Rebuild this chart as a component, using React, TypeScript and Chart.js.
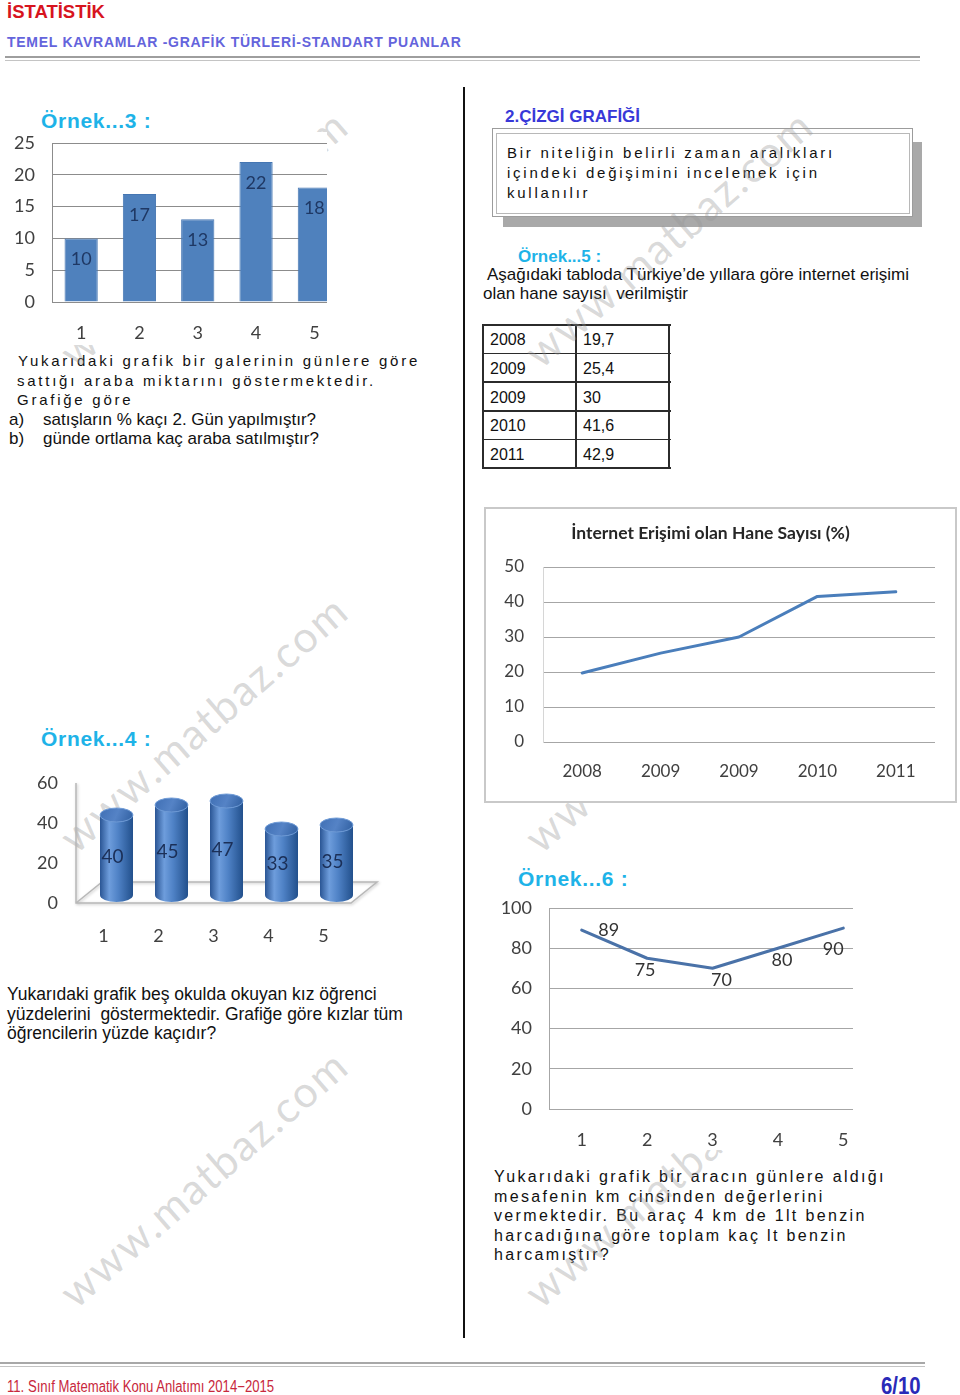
import React, { useEffect, useRef } from "react";
import { Chart, registerables } from "chart.js";

Chart.register(...registerables);

// ---------------- data ----------------
const ex3Days = ["1", "2", "3", "4", "5"];
const ex3CarsSold = [10, 17, 13, 22, 18];
const ex3YTicks = [0, 5, 10, 15, 20, 25];

const ex4Schools = ["1", "2", "3", "4", "5"];
const ex4GirlPercent = [40, 45, 47, 33, 35];
const ex4YTicks = [0, 20, 40, 60];

const ex5Years = ["2008", "2009", "2009", "2010", "2011"];
const ex5Internet = [19.7, 25.4, 30, 41.6, 42.9];
const ex5TableValues = ["19,7", "25,4", "30", "41,6", "42,9"];
const ex5YTicks = [0, 10, 20, 30, 40, 50];
const ex5Title = "İnternet Erişimi olan Hane Sayısı (%)";

const ex6Days = ["1", "2", "3", "4", "5"];
const ex6Km = [89, 75, 70, 80, 90];
const ex6YTicks = [0, 20, 40, 60, 80, 100];

// ---------------- styles ----------------
const SANS = '"Liberation Sans", Arial, sans-serif';
const CHART_FONT = "Lato";
const CYAN = "#1eb3e8";
const TICK_COLOR = "#404040";

Chart.defaults.font.family = CHART_FONT;

function yAxis(ticks: number[], width: number, gap: number, size: number, grid: any, border: any) {
  return {
    min: ticks[0],
    max: ticks[ticks.length - 1],
    ticks: {
      stepSize: ticks[1] - ticks[0],
      padding: 0,
      color: TICK_COLOR,
      font: { family: CHART_FONT, size },
    },
    grid: { drawTicks: true, tickLength: gap, tickColor: "rgba(0,0,0,0)", ...grid },
    border,
    afterFit: (s: any) => {
      s.width = width;
    },
  };
}

function xAxis(height: number, gap: number, size: number) {
  return {
    offset: true,
    grid: { display: false, drawTicks: false, tickLength: 0 },
    border: { display: false },
    ticks: {
      padding: gap,
      color: TICK_COLOR,
      font: { family: CHART_FONT, size },
      maxRotation: 0,
      autoSkip: false,
    },
    afterFit: (s: any) => {
      s.height = height;
    },
  };
}

const noPlugins = { legend: { display: false }, tooltip: { enabled: false } };

// value labels inside the bars (Örnek 3)
const barValuePlugin = {
  id: "barValues",
  afterDatasetsDraw(chart: any) {
    const ctx = chart.ctx;
    const meta = chart.getDatasetMeta(0);
    const data = chart.data.datasets[0].data;
    ctx.save();
    ctx.font = `18px ${CHART_FONT}`;
    ctx.fillStyle = "#1f3864";
    ctx.textAlign = "center";
    ctx.textBaseline = "middle";
    meta.data.forEach((el: any, i: number) => {
      const p = el.getProps(["x", "y"], true);
      ctx.fillText(String(data[i]), p.x, p.y + 21);
    });
    ctx.restore();
  },
};

// 3D floor + cylinders (Örnek 4)
const FLOOR_DX = 26;
const FLOOR_DY = -21;
const CYL_DX = 13;
const CYL_DY = -8;
const cylinderPlugin = {
  id: "cylinders",
  beforeDatasetsDraw(chart: any) {
    const { ctx, chartArea: a, scales } = chart;
    const y0 = scales.y.getPixelForValue(0);
    ctx.save();
    ctx.strokeStyle = "#b8b8b8";
    ctx.lineWidth = 1.5;
    ctx.shadowColor = "rgba(0,0,0,0.25)";
    ctx.shadowBlur = 3;
    ctx.shadowOffsetX = 1;
    ctx.shadowOffsetY = 1;
    ctx.beginPath();
    ctx.moveTo(a.left, a.top);
    ctx.lineTo(a.left, y0);
    ctx.lineTo(a.right, y0);
    ctx.lineTo(a.right + FLOOR_DX, y0 + FLOOR_DY);
    ctx.lineTo(a.left + FLOOR_DX, y0 + FLOOR_DY);
    ctx.lineTo(a.left, y0);
    ctx.stroke();
    ctx.restore();
  },
  afterDatasetsDraw(chart: any) {
    const ctx = chart.ctx;
    const meta = chart.getDatasetMeta(0);
    const data = chart.data.datasets[0].data;
    meta.data.forEach((el: any, i: number) => {
      const { x, y, base, width } = el.getProps(["x", "y", "base", "width"], true);
      const cx = x + CYL_DX;
      const top = y + CYL_DY;
      const bottom = base + CYL_DY;
      const r = width / 2;
      const ry = 7;
      ctx.save();
      const g = ctx.createLinearGradient(cx - r, 0, cx + r, 0);
      g.addColorStop(0, "#2a5594");
      g.addColorStop(0.28, "#6e9ddc");
      g.addColorStop(0.55, "#4f82c6");
      g.addColorStop(1, "#22508c");
      ctx.beginPath();
      ctx.moveTo(cx - r, top);
      ctx.lineTo(cx - r, bottom);
      ctx.ellipse(cx, bottom, r, ry, 0, Math.PI, 0, true);
      ctx.lineTo(cx + r, top);
      ctx.closePath();
      ctx.fillStyle = g;
      ctx.fill();
      const gc = ctx.createLinearGradient(cx - r, top - ry, cx + r, top + ry);
      gc.addColorStop(0, "#3f6fb4");
      gc.addColorStop(0.5, "#5583c6");
      gc.addColorStop(1, "#2f5e9f");
      ctx.beginPath();
      ctx.ellipse(cx, top, r, ry, 0, 0, Math.PI * 2);
      ctx.fillStyle = gc;
      ctx.fill();
      ctx.strokeStyle = "#6f9bd6";
      ctx.lineWidth = 1;
      ctx.stroke();
      ctx.font = `19px ${CHART_FONT}`;
      ctx.fillStyle = "#1b2f57";
      ctx.textAlign = "center";
      ctx.textBaseline = "middle";
      ctx.fillText(String(data[i]), cx - 4, (top + bottom) / 2 + 2);
      ctx.restore();
    });
  },
};

// point labels (Örnek 6)
const pointLabelPlugin = {
  id: "pointLabels",
  afterDatasetsDraw(chart: any, _args: any, opts: any) {
    const ctx = chart.ctx;
    const meta = chart.getDatasetMeta(0);
    const data = chart.data.datasets[0].data;
    const offsets: number[][] = opts.offsets || [];
    ctx.save();
    ctx.font = `18px ${CHART_FONT}`;
    ctx.fillStyle = "#333";
    ctx.textAlign = "center";
    ctx.textBaseline = "middle";
    meta.data.forEach((el: any, i: number) => {
      const p = el.getProps(["x", "y"], true);
      const o = offsets[i] || [0, 12];
      ctx.fillText(String(data[i]), p.x + o[0], p.y + o[1]);
    });
    ctx.restore();
  },
};

// ---------------- configs ----------------
const ex3Config = () => ({
  type: "bar",
  data: {
    labels: ex3Days,
    datasets: [
      {
        data: ex3CarsSold,
        backgroundColor: "#4f81bd",
        borderColor: "#4576b2",
        borderWidth: 1,
        barPercentage: 0.57,
        categoryPercentage: 1,
      },
    ],
  },
  options: {
    responsive: false,
    animation: false,
    layout: { padding: { top: 11, right: 2.5, left: 0, bottom: 0 } },
    plugins: noPlugins,
    scales: {
      x: xAxis(43, 20, 18),
      y: yAxis(ex3YTicks, 52, 17, 18, { color: "#8c8c8c" }, { display: true, color: "#8c8c8c" }),
    },
  },
  plugins: [barValuePlugin],
});

const ex4Config = () => ({
  type: "bar",
  data: {
    labels: ex4Schools,
    datasets: [
      {
        data: ex4GirlPercent,
        backgroundColor: "rgba(0,0,0,0)",
        borderWidth: 0,
        barPercentage: 0.6,
        categoryPercentage: 1,
      },
    ],
  },
  options: {
    responsive: false,
    animation: false,
    layout: { padding: { top: 13, right: 44, left: 0, bottom: 0 } },
    plugins: noPlugins,
    scales: {
      x: xAxis(52, 22, 18),
      y: yAxis(ex4YTicks, 76, 18, 18, { display: false }, { display: false }),
    },
  },
  plugins: [cylinderPlugin],
});

const ex5Config = () => ({
  type: "line",
  data: {
    labels: ex5Years,
    datasets: [
      {
        data: ex5Internet,
        borderColor: "#4a7ebb",
        borderWidth: 3,
        pointRadius: 0,
        tension: 0,
        borderJoinStyle: "round",
        borderCapStyle: "round",
      },
    ],
  },
  options: {
    responsive: false,
    animation: false,
    layout: { padding: { top: 0, right: 24, left: 0, bottom: 0 } },
    plugins: {
      ...noPlugins,
      title: {
        display: true,
        text: ex5Title,
        color: "#262626",
        font: { family: CHART_FONT, size: 17.5, weight: "bold" },
        padding: { top: 14, bottom: 23 },
      },
    },
    scales: {
      x: xAxis(63, 19.8, 17),
      y: yAxis(ex5YTicks, 57, 19, 17, { color: "#a6a6a6" }, { display: true, color: "#d6d6d6" }),
    },
  },
});

const ex6Config = () => ({
  type: "line",
  data: {
    labels: ex6Days,
    datasets: [
      {
        data: ex6Km,
        borderColor: "#4a72a8",
        borderWidth: 3,
        pointRadius: 0,
        tension: 0,
        borderJoinStyle: "round",
        borderCapStyle: "round",
      },
    ],
  },
  options: {
    responsive: false,
    animation: false,
    layout: { padding: { top: 13, right: 4, left: 0, bottom: 0 } },
    plugins: {
      ...noPlugins,
      pointLabels: { offsets: [[27, 0], [-2, 12], [9, 12], [4, 12], [-10, 21]] },
    },
    scales: {
      x: xAxis(41, 20, 18),
      y: yAxis(ex6YTicks, 59, 17, 18, { color: "#a6a6a6" }, { display: true, color: "#a6a6a6" }),
    },
  },
  plugins: [pointLabelPlugin],
});

// ---------------- components ----------------
type Box = { left: number; top: number; width: number; height: number; clip?: number };

function ChartCanvas({ box, config, wrap }: { box: Box; config: () => any; wrap?: React.CSSProperties }) {
  const ref = useRef<HTMLCanvasElement | null>(null);
  useEffect(() => {
    if (!ref.current) return;
    const chart = new Chart(ref.current, config());
    return () => chart.destroy();
  }, []);
  return (
    <div
      style={{
        position: "absolute",
        left: box.left,
        top: box.top,
        width: box.clip ?? box.width,
        height: box.height,
        overflow: "hidden",
        background: "#fff",
        zIndex: 2,
        ...wrap,
      }}
    >
      <canvas ref={ref} width={box.width} height={box.height} style={{ display: "block" }} />
    </div>
  );
}

function T({
  x,
  y,
  size,
  children,
  color = "#111",
  bold = false,
  family = SANS,
  ls = 0,
  align = "left",
  sx = 1,
}: {
  x: number;
  y: number;
  size: number;
  children: React.ReactNode;
  color?: string;
  bold?: boolean;
  family?: string;
  ls?: number;
  align?: "left" | "right";
  sx?: number;
}) {
  const pos: React.CSSProperties = align === "right" ? { right: 960 - x } : { left: x };
  return (
    <div
      style={{
        position: "absolute",
        ...pos,
        top: y - 0.8465 * size,
        fontSize: size,
        lineHeight: `${size}px`,
        fontFamily: family,
        fontWeight: bold ? 700 : 400,
        color,
        letterSpacing: ls,
        whiteSpace: "pre",
        zIndex: 0,
        transform: sx !== 1 ? `scaleX(${sx})` : undefined,
        transformOrigin: align === "right" ? "right center" : "left center",
      }}
    >
      {children}
    </div>
  );
}

const WM_SIZE = 43;
function Watermark({ x, y }: { x: number; y: number }) {
  const b = 0.887 * WM_SIZE;
  return (
    <div
      style={{
        position: "absolute",
        left: x,
        top: y - b,
        fontFamily: CHART_FONT,
        fontSize: WM_SIZE,
        lineHeight: `${WM_SIZE}px`,
        color: "rgba(150,150,150,0.36)",
        letterSpacing: 2,
        transform: "rotate(-41deg)",
        transformOrigin: `0px ${b}px`,
        whiteSpace: "pre",
        zIndex: 1,
        pointerEvents: "none",
      }}
    >
      www.matbaz.com
    </div>
  );
}

function Line({ x, y, w, h, c }: { x: number; y: number; w: number; h: number; c: string }) {
  return <div style={{ position: "absolute", left: x, top: y, width: w, height: h, background: c }} />;
}

function DataTable() {
  const top = 325;
  const rowH = 28.6;
  const left = 483;
  const mid = 576;
  const right = 669;
  const c = "#2b2b2b";
  const n = ex5Years.length;
  return (
    <>
      {Array.from({ length: n + 1 }).map((_, i) => (
        <Line key={"h" + i} x={left} y={top + i * rowH - 0.75} w={right - left + 1.5} h={1.5} c={c} />
      ))}
      {[left, mid, right].map((xv, i) => (
        <Line key={"v" + i} x={xv - 0.75} y={top - 0.75} w={1.5} h={n * rowH + 1.5} c={c} />
      ))}
      {ex5Years.map((yr, i) => (
        <T key={"y" + i} x={490} y={top + i * rowH + 21} size={16}>
          {yr}
        </T>
      ))}
      {ex5TableValues.map((v, i) => (
        <T key={"v" + i} x={583} y={top + i * rowH + 21} size={16}>
          {v}
        </T>
      ))}
    </>
  );
}

export default function App() {
  return (
    <div
      style={{
        position: "absolute",
        left: 0,
        top: 0,
        width: 960,
        height: 1395,
        background: "#fff",
        overflow: "hidden",
        fontFamily: SANS,
      }}
    >
      {/* header */}
      <T x={7} y={19} size={18.5} bold color="#d7141e">
        İSTATİSTİK
      </T>
      <T x={7} y={47} size={14} bold color="#6464dc" ls={0.72}>
        TEMEL KAVRAMLAR -GRAFİK TÜRLERİ-STANDART PUANLAR
      </T>
      <Line x={5} y={56} w={915} h={1.5} c="#9e9e9e" />
      <Line x={5} y={60} w={915} h={1} c="#c4c4c4" />

      {/* divider */}
      <Line x={463} y={87} w={2} h={1251} c="#111" />

      {/* left column */}
      <T x={41} y={128} size={21} bold color={CYAN} ls={0.7}>
        Örnek...3 :
      </T>
      <ChartCanvas box={{ left: 0, top: 132, width: 346, height: 213, clip: 327 }} config={ex3Config} />

      <T x={18} y={366} size={15} ls={2.75}>
        Yukarıdaki grafik bir galerinin günlere göre
      </T>
      <T x={17} y={385.5} size={15} ls={2.75}>
        sattığı araba miktarını göstermektedir.
      </T>
      <T x={17} y={405} size={15} ls={2.75}>
        Grafiğe göre
      </T>
      <T x={9} y={425} size={17}>
        a)
      </T>
      <T x={43} y={425} size={17}>
        satışların % kaçı 2. Gün yapılmıştır?
      </T>
      <T x={9} y={444} size={17}>
        b)
      </T>
      <T x={43} y={444} size={17}>
        günde ortlama kaç araba satılmıştır?
      </T>

      <T x={41} y={746} size={21} bold color={CYAN} ls={0.7}>
        Örnek...4 :
      </T>
      <ChartCanvas box={{ left: 0, top: 770, width: 395, height: 185 }} config={ex4Config} wrap={{ background: "transparent" }} />

      <T x={7} y={1001} size={17.5}>
        Yukarıdaki grafik beş okulda okuyan kız öğrenci
      </T>
      <T x={7} y={1020.5} size={17.5}>
        yüzdelerini  göstermektedir. Grafiğe göre kızlar tüm
      </T>
      <T x={7} y={1040} size={17.5}>
        öğrencilerin yüzde kaçıdır?
      </T>

      {/* right column */}
      <T x={505} y={122} size={17} bold color="#3838d8">
        2.ÇİZGİ GRAFİĞİ
      </T>
      <Line x={503} y={142} w={419} h={85} c="#a9a9a9" />
      <div
        style={{
          position: "absolute",
          left: 492,
          top: 128,
          width: 421,
          height: 89,
          boxSizing: "border-box",
          border: "1px solid #9c9c9c",
          background: "#fff",
        }}
      />
      <div
        style={{
          position: "absolute",
          left: 496,
          top: 133,
          width: 414,
          height: 81,
          boxSizing: "border-box",
          border: "1px solid #b8b8b8",
          background: "#fff",
        }}
      />
      <T x={507} y={158} size={15} ls={2.75}>
        Bir niteliğin belirli zaman aralıkları
      </T>
      <T x={507} y={178} size={15} ls={2.75}>
        içindeki değişimini incelemek için
      </T>
      <T x={507} y={197.5} size={15} ls={2.75}>
        kullanılır
      </T>

      <T x={518} y={262} size={17} bold color={CYAN}>
        Örnek...5 :
      </T>
      <T x={487} y={280} size={17}>
        Aşağıdaki tabloda Türkiye’de yıllara göre internet erişimi
      </T>
      <T x={483} y={299.5} size={17}>
        olan hane sayısı  verilmiştir
      </T>

      <DataTable />

      <ChartCanvas
        box={{ left: 484, top: 507, width: 473, height: 296 }}
        config={() => ex5Config()}
        wrap={{ boxSizing: "border-box", border: "2px solid #c9c9c9" }}
      />

      <T x={518} y={886} size={21} bold color={CYAN} ls={0.7}>
        Örnek...6 :
      </T>
      <ChartCanvas box={{ left: 490, top: 895, width: 390, height: 255, clip: 363 }} config={ex6Config} />

      <T x={494} y={1183} size={16} ls={2.35}>
        Yukarıdaki grafik bir aracın günlere aldığı
      </T>
      <T x={494} y={1202.5} size={16} ls={2.35}>
        mesafenin km cinsinden değerlerini
      </T>
      <T x={494} y={1222} size={16} ls={2.35}>
        vermektedir. Bu araç 4 km de 1lt benzin
      </T>
      <T x={494} y={1241.5} size={16} ls={2.35}>
        harcadığına göre toplam kaç lt benzin
      </T>
      <T x={494} y={1261} size={16} ls={2.35}>
        harcamıştır?
      </T>

      {/* watermarks */}
      <Watermark x={76} y={1310} />
      <Watermark x={76} y={855} />
      <Watermark x={76} y={370} />
      <Watermark x={541} y={370} />
      <Watermark x={541} y={855} />
      <Watermark x={541} y={1310} />

      {/* footer */}
      <Line x={0} y={1362} w={925} h={1.5} c="#a8a8a8" />
      <Line x={0} y={1366} w={925} h={1} c="#c4c4c4" />
      <T x={7} y={1393} size={16} color="#c8283c" sx={0.82}>
        11. Sınıf Matematik Konu Anlatımı 2014−2015
      </T>
      <T x={921} y={1394} size={24} bold color="#2a2ab8" align="right" sx={0.85}>
        6/10
      </T>
    </div>
  );
}
